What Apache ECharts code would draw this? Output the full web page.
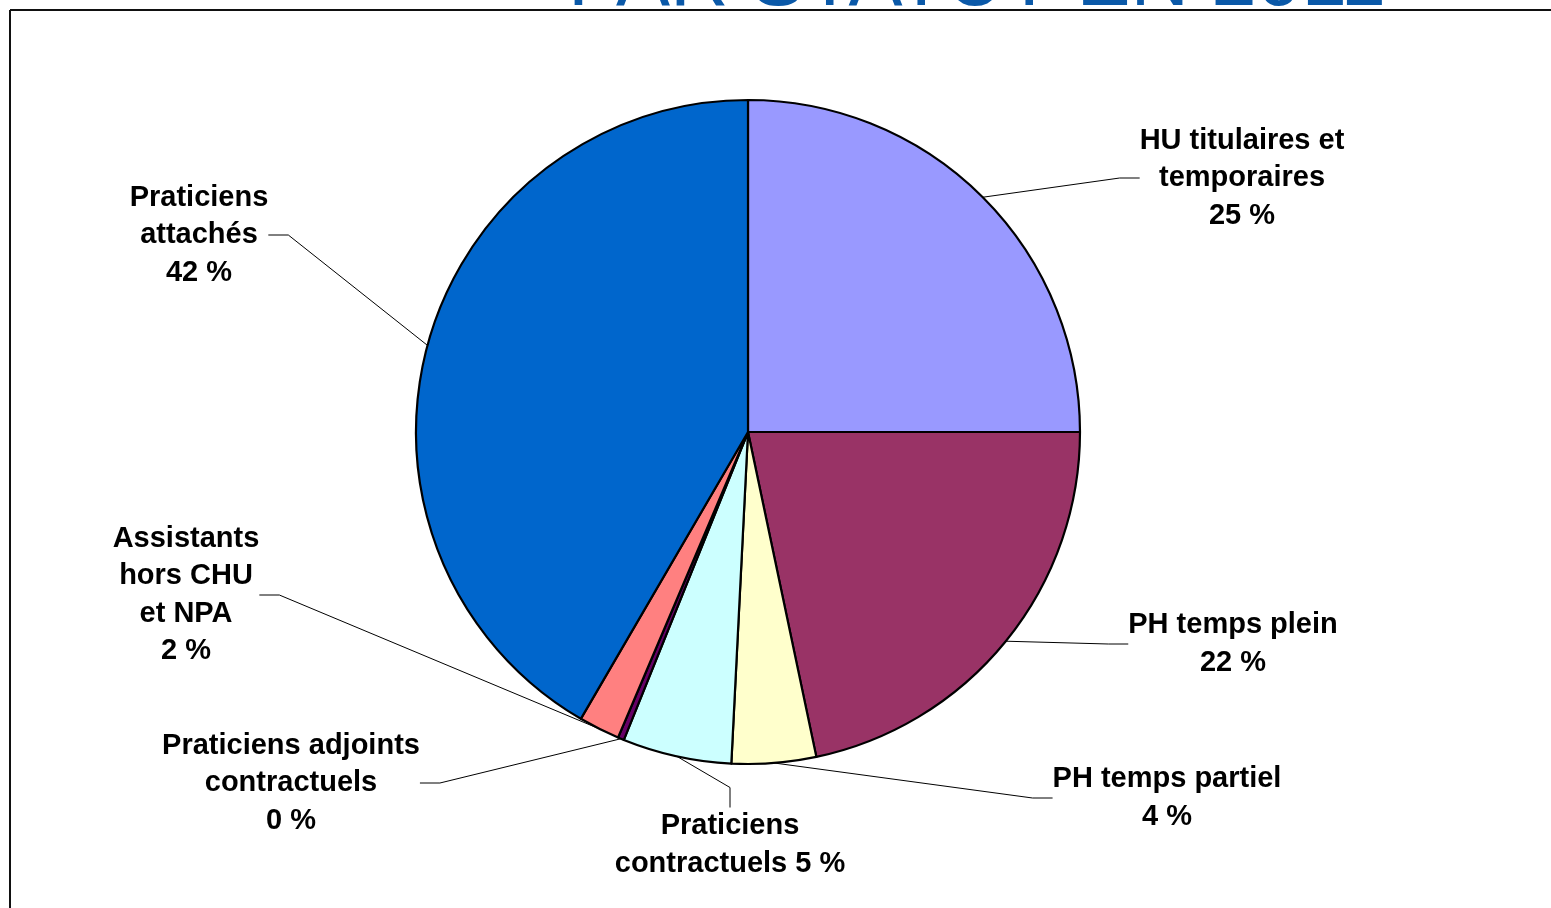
<!DOCTYPE html>
<html>
<head>
<meta charset="utf-8">
<script src="https://cdn.jsdelivr.net/npm/echarts@6/dist/echarts.min.js"></script>
<style>
  html, body { margin: 0; padding: 0; background: #fff; }
  #chart { width: 1551px; height: 908px; }
</style>
</head>
<body>
<div id="chart"></div>
<script>
  // catégories (ordre horaire depuis midi)
  const categories = [
    'HU titulaires et\ntemporaires',
    'PH temps plein',
    'PH temps partiel',
    'Praticiens\ncontractuels',
    'Praticiens adjoints\ncontractuels',
    'Assistants\nhors CHU\net NPA',
    'Praticiens\nattachés'
  ];
  // parts en %
  const shares = [25, 21.7, 4.1, 5.3, 0.3, 2.0, 41.6];
  const colors = ['#9999FF', '#993366', '#FFFFCC', '#CCFFFF', '#660066', '#FF8080', '#0066CC'];
  // centre des étiquettes
  const labelPos = [
    [1242, 178], [1233, 644], [1167, 798], [730, 845],
    [291, 783], [186, 595], [199, 235]
  ];
  const titleText = 'PAR STATUT EN 2011';

  const chart = echarts.init(document.getElementById('chart'));

  const option = {
    animation: false,
    backgroundColor: '#fff',
    graphic: [
      {
        type: 'text',
        left: 568,
        top: -58,
        style: {
          text: titleText,
          fill: '#0B59A8',
          font: '81px "Liberation Sans", Arial, sans-serif'
        },
        z: 10
      },
      {
        type: 'line',
        shape: { x1: 10, y1: 10, x2: 1551, y2: 10 },
        style: { stroke: '#111', lineWidth: 2 },
        z: 11
      },
      {
        type: 'line',
        shape: { x1: 10, y1: 10, x2: 10, y2: 908 },
        style: { stroke: '#111', lineWidth: 2 },
        z: 11
      }
    ],
    series: [
      {
        type: 'pie',
        center: [748, 432],
        radius: 332,
        startAngle: 90,
        clockwise: true,
        data: categories.map((name, i) => ({
          name: name,
          value: shares[i],
          itemStyle: { color: colors[i] }
        })),
        itemStyle: {
          borderColor: '#000',
          borderWidth: 2.2
        },
        label: {
          show: true,
          position: 'outside',
          color: '#000',
          fontFamily: '"Liberation Sans", Arial, sans-serif',
          fontWeight: 'bold',
          fontSize: 29,
          lineHeight: 37.5,
          align: 'center',
          formatter: (p) => {
            const sep = p.dataIndex === 3 ? ' ' : '\n';
            return p.name + sep + Math.round(p.percent) + ' %';
          }
        },
        labelLine: {
          show: true,
          length: 20,
          length2: 20,
          lineStyle: { color: '#000', width: 1 }
        },
        labelLayout: (params) => {
          const p = labelPos[params.dataIndex];
          return {
            x: p[0],
            y: p[1],
            align: 'center',
            verticalAlign: 'middle'
          };
        },
        emphasis: { disabled: true }
      }
    ]
  };

  chart.setOption(option);
</script>
</body>
</html>
